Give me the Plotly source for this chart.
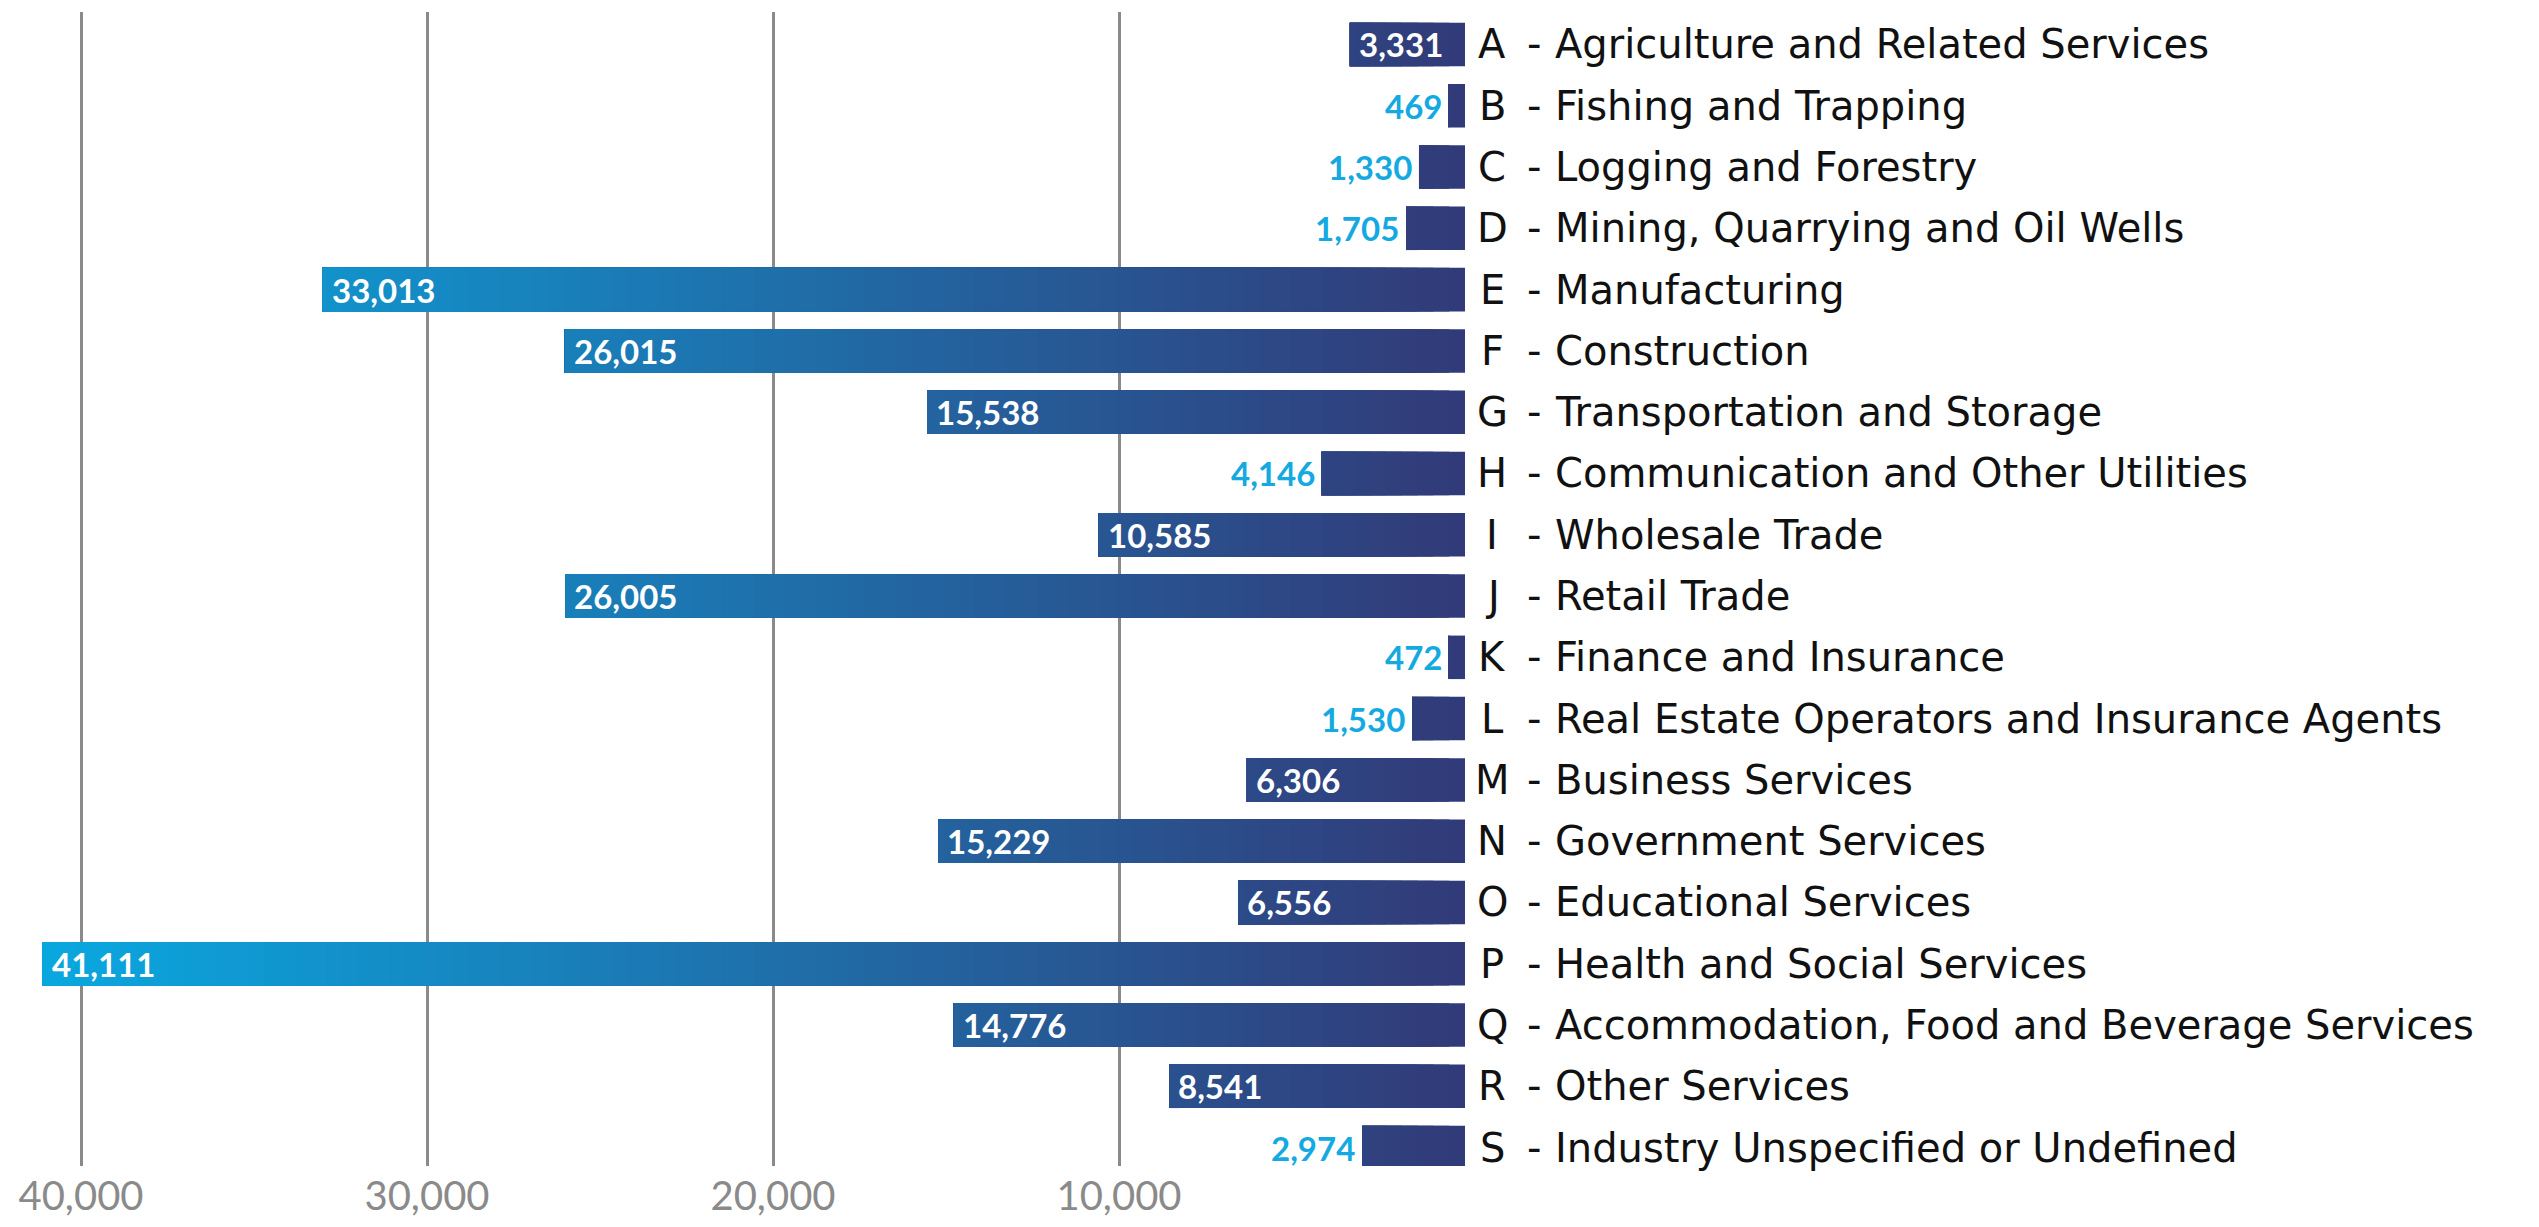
import plotly.graph_objects as go

# ---------------- data ----------------
codes = list("ABCDEFGHIJKLMNOPQRS")
names = [
    "Agriculture and Related Services",
    "Fishing and Trapping",
    "Logging and Forestry",
    "Mining, Quarrying and Oil Wells",
    "Manufacturing",
    "Construction",
    "Transportation and Storage",
    "Communication and Other Utilities",
    "Wholesale Trade",
    "Retail Trade",
    "Finance and Insurance",
    "Real Estate Operators and Insurance Agents",
    "Business Services",
    "Government Services",
    "Educational Services",
    "Health and Social Services",
    "Accommodation, Food and Beverage Services",
    "Other Services",
    "Industry Unspecified or Undefined",
]
values = [3331, 469, 1330, 1705, 33013, 26015, 15538, 4146, 10585, 26005,
          472, 1530, 6306, 15229, 6556, 41111, 14776, 8541, 2974]
outside_label_codes = ["B", "C", "D", "H", "K", "L", "S"]
tick_vals = [10000, 20000, 30000, 40000]
tick_text = ["10,000", "20,000", "30,000", "40,000"]

# ---------------- styling ----------------
NAVY = (50, 58, 120)
CYAN = (10, 168, 224)
VAL_FONT = "Lato"
CAT_FONT = "DejaVu Sans"
N_BANDS = 90
vmax = max(values)
band_w = vmax / N_BANDS


def mix(t):
    t = max(0.0, min(1.0, t))
    c = [round(NAVY[i] + (CYAN[i] - NAVY[i]) * t) for i in range(3)]
    return f"rgb({c[0]},{c[1]},{c[2]})"


fig = go.Figure()

# gradient bars: each band trace covers [k*w, value]; later bands overlay earlier
for k in range(N_BANDS):
    lo = k * band_w
    xs, bases = [], []
    for v in values:
        if v > lo:
            xs.append(v - lo)
            bases.append(lo)
        else:
            xs.append(None)
            bases.append(None)
    fig.add_trace(go.Bar(
        orientation="h",
        y=codes,
        x=xs,
        base=bases,
        marker=dict(color=mix((lo + band_w / 2) / vmax), line=dict(width=0)),
        showlegend=False,
        hoverinfo="skip",
    ))

annotations = []
for code, name, v in zip(codes, names, values):
    txt = f"{v:,}"
    if code in outside_label_codes:
        annotations.append(dict(
            x=v, y=code, xref="x", yref="y", text=txt, showarrow=False,
            xanchor="right", yanchor="middle", xshift=-5,
            font=dict(family=VAL_FONT, size=33, color="#14a9e1", weight=700),
        ))
    else:
        annotations.append(dict(
            x=v, y=code, xref="x", yref="y", text=txt, showarrow=False,
            xanchor="left", yanchor="middle", xshift=7,
            font=dict(family=VAL_FONT, size=33, color="white", weight=700),
        ))
    # category letter, dash and name to the right of the bars
    annotations.append(dict(
        x=0, y=code, xref="x", yref="y", text=code, showarrow=False,
        xanchor="center", yanchor="middle", xshift=27,
        font=dict(family=CAT_FONT, size=40, color="#111111"),
    ))
    annotations.append(dict(
        x=0, y=code, xref="x", yref="y", text="-", showarrow=False,
        xanchor="center", yanchor="middle", xshift=69,
        font=dict(family=CAT_FONT, size=40, color="#111111"),
    ))
    annotations.append(dict(
        x=0, y=code, xref="x", yref="y", text=name, showarrow=False,
        xanchor="left", yanchor="middle", xshift=88,
        font=dict(family=CAT_FONT, size=40, color="#111111"),
    ))

fig.update_layout(
    width=2523,
    height=1211,
    margin=dict(l=0, r=1066, t=4, b=48),
    paper_bgcolor="white",
    plot_bgcolor="white",
    barmode="overlay",
    bargap=0.29,
    annotations=annotations,
    font=dict(family=VAL_FONT),
    xaxis=dict(
        range=[42110, 0],
        tickvals=tick_vals,
        ticktext=tick_text,
        showgrid=True,
        gridcolor="#8a8a8a",
        gridwidth=2.5,
        zeroline=False,
        showline=False,
        ticks="",
        ticklabelstandoff=3,
        tickfont=dict(family=VAL_FONT, size=40, color="#8a8a8a"),
        fixedrange=True,
    ),
    yaxis=dict(
        type="category",
        categoryorder="array",
        categoryarray=codes,
        range=[18.30, -0.53],
        showticklabels=False,
        showgrid=False,
        zeroline=False,
        showline=False,
        ticks="",
        fixedrange=True,
    ),
)

fig.write_html("out.html")
